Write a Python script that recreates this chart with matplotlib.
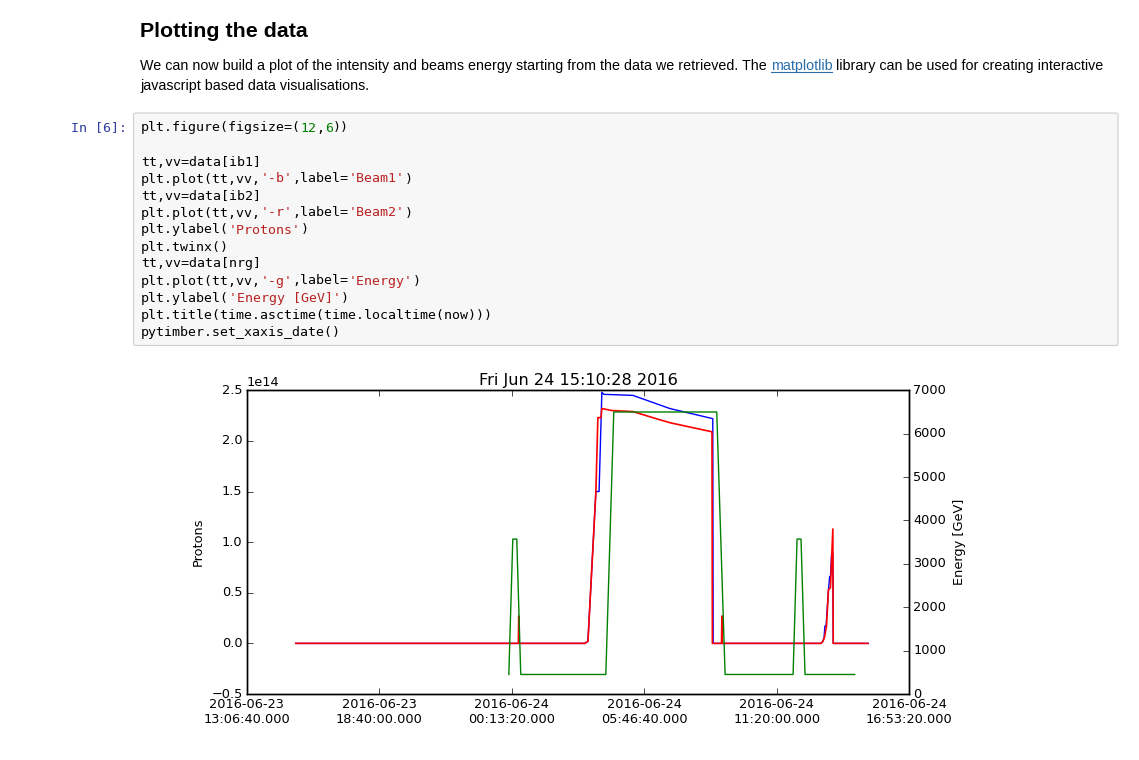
import matplotlib
matplotlib.use("Agg")
import matplotlib.pyplot as plt
from matplotlib.patches import FancyBboxPatch
from matplotlib.ticker import MultipleLocator, FuncFormatter
from datetime import datetime, timezone, timedelta

W, H = 1139, 760
TZ = timezone(timedelta(hours=2))   # CEST, timber local time

# ---- data ----
# Beam1 intensity (protons, units of 1e14)
b1_time = ["2016-06-23 15:10", "2016-06-24 03:17", "2016-06-24 03:25", "2016-06-24 03:45",
           "2016-06-24 03:53", "2016-06-24 04:00", "2016-06-24 04:05", "2016-06-24 05:18",
           "2016-06-24 06:08", "2016-06-24 06:51", "2016-06-24 08:39", "2016-06-24 08:40",
           "2016-06-24 13:11", "2016-06-24 13:16", "2016-06-24 13:19", "2016-06-24 13:21",
           "2016-06-24 13:24", "2016-06-24 13:30", "2016-06-24 13:33", "2016-06-24 13:35",
           "2016-06-24 13:38", "2016-06-24 13:41", "2016-06-24 13:42", "2016-06-24 15:10"]
b1_val = [0.0, 0.0, 0.02, 1.50,
          1.50, 2.48, 2.46, 2.45,
          2.38, 2.32, 2.22, 0.0,
          0.0, 0.02, 0.06, 0.17,
          0.17, 0.53, 0.66, 0.66,
          0.89, 0.89, 0.0, 0.0]

# Beam2 intensity (protons, units of 1e14)
b2_time = ["2016-06-23 15:10", "2016-06-24 00:30", "2016-06-24 00:31", "2016-06-24 00:32",
           "2016-06-24 03:17", "2016-06-24 03:25", "2016-06-24 03:45", "2016-06-24 03:50",
           "2016-06-24 03:58", "2016-06-24 04:00", "2016-06-24 04:25", "2016-06-24 05:18",
           "2016-06-24 06:08", "2016-06-24 06:51", "2016-06-24 08:37", "2016-06-24 08:38",
           "2016-06-24 09:01", "2016-06-24 09:02", "2016-06-24 09:03", "2016-06-24 13:11",
           "2016-06-24 13:16", "2016-06-24 13:20", "2016-06-24 13:25", "2016-06-24 13:30",
           "2016-06-24 13:35", "2016-06-24 13:41", "2016-06-24 13:42", "2016-06-24 15:09"]
b2_val = [0.0, 0.0, 0.27, 0.0,
          0.0, 0.02, 1.50, 2.23,
          2.23, 2.32, 2.30, 2.29,
          2.23, 2.18, 2.09, 0.0,
          0.0, 0.27, 0.0, 0.0,
          0.02, 0.06, 0.17, 0.53,
          0.55, 1.13, 0.0, 0.0]

# beam energy (GeV)
e_time = ["2016-06-24 00:06", "2016-06-24 00:16", "2016-06-24 00:26", "2016-06-24 00:36",
          "2016-06-24 04:10", "2016-06-24 04:30", "2016-06-24 08:49", "2016-06-24 09:10",
          "2016-06-24 12:01", "2016-06-24 12:11", "2016-06-24 12:21", "2016-06-24 12:31",
          "2016-06-24 14:36"]
e_val = [450, 3570, 3570, 450,
         450, 6500, 6500, 450,
         450, 3570, 3570, 450,
         450]

title = "Fri Jun 24 15:10:28 2016"
t_start, t_end = 1466680000, 1466780000


def ts(s):
    return datetime.strptime(s, "%Y-%m-%d %H:%M").replace(tzinfo=TZ).timestamp()


def fx(x):
    return x / W


def fy(y):
    return 1 - y / H


plt.style.use("classic")
plt.rcParams["font.size"] = 9.3
plt.rcParams["axes.unicode_minus"] = True

fig = plt.figure(figsize=(W / 100, H / 100), dpi=100, facecolor="white")
r = fig.canvas.get_renderer()

# ---- notebook markdown ----
fig.text(fx(140), fy(37), "Plotting the data", family="Liberation Sans", weight="bold",
         fontsize=15.4, va="baseline")

pfont = dict(family="Liberation Sans", fontsize=10.22, va="baseline")


def text_w(s):
    t = fig.text(0, 0, s, **pfont)
    w = t.get_window_extent(renderer=r).width
    t.remove()
    return w


sp = text_w("a a") - text_w("aa")
part1 = "We can now build a plot of the intensity and beams energy starting from the data we retrieved. The"
link = "matplotlib"
part2 = "library can be used for creating interactive"
x0 = 140
fig.text(fx(x0), fy(70), part1, color="black", **pfont)
xl = x0 + text_w(part1) + sp
fig.text(fx(xl), fy(70), link, color="#296eaa", **pfont)
wl = text_w(link)
fig.add_artist(plt.Line2D([fx(xl), fx(xl + wl)], [fy(72), fy(72)], color="#296eaa", lw=0.8))
fig.text(fx(xl + wl + sp), fy(70), part2, color="black", **pfont)
fig.text(fx(x0), fy(90), "javascript based data visualisations.", color="black", **pfont)

# ---- code cell ----
cell = FancyBboxPatch((fx(133.5), fy(345.5)), fx(1118) - fx(133.5), fy(113) - fy(345.5),
                      boxstyle="round,pad=0,rounding_size=0.002", transform=fig.transFigure,
                      facecolor="#f7f7f7", edgecolor="#cfcfcf", lw=0.8)
fig.add_artist(cell)

K, STR, NUM = "black", "#ba2121", "#008000"
code_lines = [
    [("plt.figure(figsize=(", K), ("12", NUM), (",", K), ("6", NUM), ("))", K)],
    [],
    [("tt,vv=data[ib1]", K)],
    [("plt.plot(tt,vv,", K), ("'-b'", STR), (",label=", K), ("'Beam1'", STR), (")", K)],
    [("tt,vv=data[ib2]", K)],
    [("plt.plot(tt,vv,", K), ("'-r'", STR), (",label=", K), ("'Beam2'", STR), (")", K)],
    [("plt.ylabel(", K), ("'Protons'", STR), (")", K)],
    [("plt.twinx()", K)],
    [("tt,vv=data[nrg]", K)],
    [("plt.plot(tt,vv,", K), ("'-g'", STR), (",label=", K), ("'Energy'", STR), (")", K)],
    [("plt.ylabel(", K), ("'Energy [GeV]'", STR), (")", K)],
    [("plt.title(time.asctime(time.localtime(now)))", K)],
    [("pytimber.set_xaxis_date()", K)],
]
cfs = 9.55
cw = 0.6021 * cfs * 100 / 72
for i, line in enumerate(code_lines):
    col = 0
    y = 131.5 + 17 * i
    for s, c in line:
        fig.text(fx(141 + col * cw), fy(y), s, color=c, family="DejaVu Sans Mono",
                 fontsize=cfs, va="baseline")
        col += len(s)
fig.text(fx(127), fy(131.5), "In [6]:", color="#303f9f", family="DejaVu Sans Mono",
         fontsize=cfs, va="baseline", ha="right")

# ---- the chart ----
ax = fig.add_axes([fx(246.7), fy(694), (909.3 - 246.7) / W, (694 - 390.3) / H])
ax.plot([ts(t) for t in b1_time], [v * 1e14 for v in b1_val], "-b", lw=1.0, label="Beam1")
ax.plot([ts(t) for t in b2_time], [v * 1e14 for v in b2_val], "-r", lw=1.2, label="Beam2")
ax.set_ylabel("Protons")
ax.set_ylim(-0.5e14, 2.5e14)
ax.yaxis.set_major_locator(MultipleLocator(0.5e14))

ax2 = ax.twinx()
ax2.plot([ts(t) for t in e_time], e_val, "-g", lw=1.0, label="Energy")
ax2.set_ylabel("Energy [GeV]")
ax2.set_ylim(0, 7000)
ax2.yaxis.set_major_locator(MultipleLocator(1000))
ax2.set_title(title, fontsize=11.6, pad=4)

ax.set_xlim(t_start, t_end)
ax.xaxis.set_major_locator(MultipleLocator(20000))
ax.xaxis.set_major_formatter(FuncFormatter(
    lambda x, pos: datetime.fromtimestamp(x, TZ).strftime("%Y-%m-%d\n%H:%M:%S.000")))
for a in (ax, ax2):
    a.tick_params(which="major", length=4, pad=3)
    a.tick_params(which="minor", length=0)

fig.savefig("out.png", dpi=100, facecolor="white")
